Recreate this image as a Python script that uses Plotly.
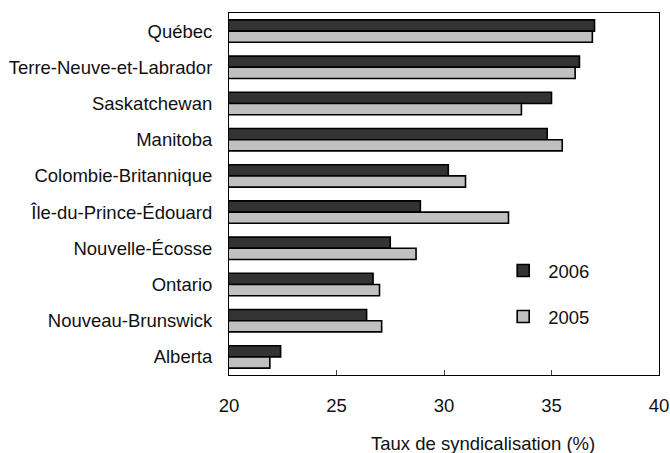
import plotly.graph_objects as go

provinces = ["Québec", "Terre-Neuve-et-Labrador", "Saskatchewan", "Manitoba",
             "Colombie-Britannique", "Île-du-Prince-Édouard", "Nouvelle-Écosse",
             "Ontario", "Nouveau-Brunswick", "Alberta"]
rate_2006 = [37.0, 36.3, 35.0, 34.8, 30.2, 28.9, 27.5, 26.7, 26.4, 22.4]
rate_2005 = [36.9, 36.1, 33.6, 35.5, 31.0, 33.0, 28.7, 27.0, 27.1, 21.9]
x_ticks = [20, 25, 30, 35, 40]
x_title = "Taux de syndicalisation (%)"

FONT = "Liberation Sans, Arial, sans-serif"
TXT = "#111111"
FS = 18.5

fig = go.Figure()
fig.add_trace(go.Bar(
    name="2006", y=provinces, x=rate_2006, orientation="h",
    marker=dict(color="#333333", line=dict(color="#000000", width=1.6)),
    legendgroup="a",
))
fig.add_trace(go.Bar(
    name="2005", y=provinces, x=rate_2005, orientation="h",
    marker=dict(color="#c0c0c0", line=dict(color="#000000", width=1.6)),
    legendgroup="b",
))

fig.update_layout(
    width=670, height=453,
    margin=dict(l=229, r=11, t=13, b=78, autoexpand=False),
    paper_bgcolor="white", plot_bgcolor="white",
    font=dict(family=FONT, size=FS, color=TXT),
    barmode="group", bargap=0.38, bargroupgap=0,
    showlegend=True,
    legend=dict(x=0.626, y=0.34, xanchor="left", yanchor="top",
                bgcolor="rgba(0,0,0,0)", font=dict(size=FS, color=TXT),
                tracegroupgap=19, traceorder="grouped", itemwidth=40),
    xaxis=dict(range=[20, 40], tickvals=x_ticks, ticks="inside", ticklen=5,
               tickcolor="#444444", showgrid=False, zeroline=False,
               showline=True, linecolor="#000000", linewidth=1, mirror=True,
               ticklabelstandoff=14, automargin=False),
    yaxis=dict(range=[len(provinces) - 0.5, -0.5], showgrid=False,
               zeroline=False, showline=True, linecolor="#000000",
               linewidth=1, mirror=True, ticks="", ticklabelstandoff=12,
               automargin=False),
    annotations=[dict(text=x_title, xref="paper", yref="paper",
                      x=0.591, y=-0.188, xanchor="center", yanchor="middle",
                      showarrow=False, font=dict(size=FS, color=TXT))],
)

fig.write_html("out.html", config={"displayModeBar": False},
               post_script="document.body.style.margin='0';")
